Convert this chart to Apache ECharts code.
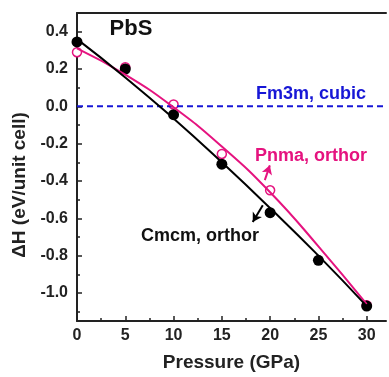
<!DOCTYPE html>
<html>
<head>
<meta charset="utf-8">
<script src="https://cdn.jsdelivr.net/npm/echarts@6/dist/echarts.min.js"></script>
<style>
  html, body { margin: 0; padding: 0; background: #fff; }
  #main { width: 389px; height: 377px; }
</style>
</head>
<body>
<div id="main"></div>
<script>
// data
const pressure = [0, 5, 10, 15, 20, 25, 30];
const cmcmDots = [0.345, 0.20, -0.045, -0.31, -0.57, -0.825, -1.07];
const cmcmFit = [0.36, 0.155, -0.065, -0.30, -0.545, -0.80, -1.07];
const pnmaPressure = [0, 5, 10, 15, 20, 30];
const pnmaDots = [0.29, 0.21, 0.01, -0.255, -0.45, -1.065];
const pnmaFit = [0.31, 0.17, -0.005, -0.215, -0.46, -0.75, -1.06];
const fm3mLine = [[0, 0], [32, 0]];

const xTicks = [0, 5, 10, 15, 20, 25, 30];
const xMinor = [2.5, 7.5, 12.5, 17.5, 22.5, 27.5];
const yTicks = [-1.0, -0.8, -0.6, -0.4, -0.2, 0.0, 0.2, 0.4];
const yMinor = [-1.1, -0.9, -0.7, -0.5, -0.3, -0.1, 0.1, 0.3];

// annotation arrows [from, to] in data units
const pnmaArrow = [[19.45, -0.395], [19.97, -0.316]];
const cmcmArrow = [[19.24, -0.53], [18.2, -0.62]];

const pink = '#e5137f';
const blue = '#1717d6';
const ink = '#222';
const font = 'Liberation Sans, Arial, sans-serif';

const zip = (xs, ys) => xs.map((x, i) => [x, ys[i]]);

const xRange = { min: 0, max: 32 };
const yRange = { min: -1.15, max: 0.5 };

let chart = echarts.init(document.getElementById('main'));
chart.setOption({
    animation: false,
    grid: { left: 77, right: 3, top: 13, bottom: 50.5 },
    xAxis: [
        {
            type: 'value', ...xRange, position: 'bottom',
            name: 'Pressure (GPa)', nameLocation: 'middle', nameGap: 32,
            nameTextStyle: { fontFamily: font, fontWeight: 'bold', fontSize: 19, color: ink },
            axisLine: { onZero: false, lineStyle: { color: ink, width: 2 } },
            axisTick: { inside: true, length: 5, customValues: xTicks, lineStyle: { color: ink, width: 1.5 } },
            axisLabel: {
                customValues: xTicks, margin: 7, color: ink,
                fontFamily: font, fontWeight: 'bold', fontSize: 16
            },
            splitLine: { show: false }
        },
        {
            type: 'value', ...xRange, position: 'bottom',
            axisLine: { show: false, onZero: false },
            axisTick: { inside: true, length: 3, customValues: xMinor, lineStyle: { color: ink, width: 1.5 } },
            axisLabel: { show: false },
            splitLine: { show: false }
        },
        {
            type: 'value', ...xRange, position: 'top',
            axisLine: { onZero: false, lineStyle: { color: ink, width: 2 } },
            axisTick: { show: false },
            axisLabel: { show: false },
            splitLine: { show: false }
        }
    ],
    yAxis: [
        {
            type: 'value', ...yRange,
            axisLine: { show: true, onZero: false, lineStyle: { color: ink, width: 2 } },
            axisTick: { show: true, inside: true, length: 5, customValues: yTicks, lineStyle: { color: ink, width: 1.5 } },
            axisLabel: {
                customValues: yTicks, margin: 9, color: ink,
                fontFamily: font, fontWeight: 'bold', fontSize: 16,
                formatter: v => v.toFixed(1)
            },
            splitLine: { show: false }
        },
        {
            type: 'value', ...yRange, position: 'left',
            axisLine: { show: false, onZero: false },
            axisTick: { show: true, inside: true, length: 3, customValues: yMinor, lineStyle: { color: ink, width: 1.5 } },
            axisLabel: { show: false },
            splitLine: { show: false }
        }
    ],
    series: [
        {
            name: 'Fm3m', type: 'line', data: fm3mLine, symbol: 'none',
            lineStyle: { color: blue, width: 2, type: [6, 4] }
        },
        {
            name: 'Pnma fit', type: 'line', data: zip(pressure, pnmaFit), smooth: true, symbol: 'none',
            lineStyle: { color: pink, width: 2 },
            markLine: {
                silent: true, symbol: ['none', 'arrow'], symbolSize: [8, 9],
                label: { show: false },
                lineStyle: { color: pink, width: 2, type: 'solid' },
                data: [[{ coord: pnmaArrow[0] }, { coord: pnmaArrow[1] }]]
            }
        },
        {
            name: 'Cmcm fit', type: 'line', data: zip(pressure, cmcmFit), smooth: true, symbol: 'none',
            lineStyle: { color: '#000', width: 2 },
            markLine: {
                silent: true, symbol: ['none', 'arrow'], symbolSize: [8, 9],
                label: { show: false },
                lineStyle: { color: '#000', width: 2, type: 'solid' },
                data: [[{ coord: cmcmArrow[0] }, { coord: cmcmArrow[1] }]]
            }
        },
        {
            name: 'Pnma', type: 'scatter', data: zip(pnmaPressure, pnmaDots),
            symbol: 'circle', symbolSize: 9,
            itemStyle: { color: '#fff', borderColor: pink, borderWidth: 1.5, opacity: 1 }
        },
        {
            name: 'Cmcm', type: 'scatter', data: zip(pressure, cmcmDots),
            symbol: 'circle', symbolSize: 11,
            itemStyle: { color: '#000', opacity: 1 }
        }
    ],
    graphic: [
        { type: 'text', x: 20, y: 185, rotation: Math.PI / 2, style: { text: 'ΔH (eV/unit cell)', fill: ink, font: 'bold 19px ' + font, align: 'center', verticalAlign: 'middle' } },
        { type: 'text', x: 131, y: 29, style: { text: 'PbS', fill: '#111', font: 'bold 22px ' + font, align: 'center', verticalAlign: 'middle' } },
        { type: 'text', x: 311, y: 94, style: { text: 'Fm3m, cubic', fill: blue, font: 'bold 18px ' + font, align: 'center', verticalAlign: 'middle' } },
        { type: 'text', x: 311, y: 156, style: { text: 'Pnma, orthor', fill: pink, font: 'bold 18px ' + font, align: 'center', verticalAlign: 'middle' } },
        { type: 'text', x: 200, y: 236, style: { text: 'Cmcm, orthor', fill: '#111', font: 'bold 18px ' + font, align: 'center', verticalAlign: 'middle' } }
    ]
});
</script>
</body>
</html>
